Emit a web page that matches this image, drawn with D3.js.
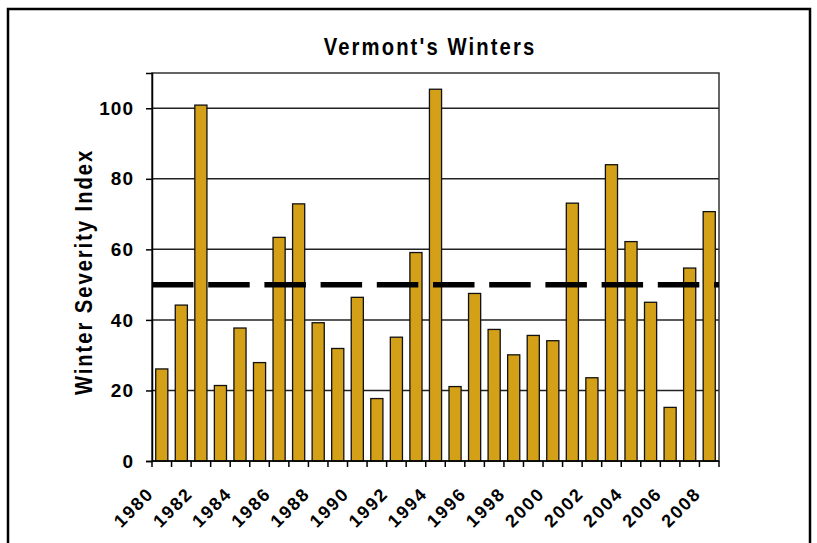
<!doctype html>
<html>
<head>
        <script src="https://cdn.jsdelivr.net/npm/d3@7"></script>
        <style type="text/css">
                body { margin: 0; background: white; }
                svg { font-family: "Liberation Sans", Arial, sans-serif; }
        </style>
</head>
<body>
        <svg width="817" height="543"></svg>

        <script type="text/javascript">

        var years = [1980,1981,1982,1983,1984,1985,1986,1987,1988,1989,
                     1990,1991,1992,1993,1994,1995,1996,1997,1998,1999,
                     2000,2001,2002,2003,2004,2005,2006,2007,2008];
        var severity = [26.1,44.2,100.9,21.4,37.7,27.9,63.4,72.9,39.2,31.9,
                        46.4,17.7,35.1,59.1,105.4,21.1,47.5,37.3,30.1,35.6,
                        34.1,73.1,23.6,84.0,62.2,45.0,15.2,54.7,70.7];
        var yTicks = [0,20,40,60,80,100];
        var xLabels = [1980,1982,1984,1986,1988,1990,1992,1994,1996,1998,2000,2002,2004,2006,2008];
        var average = [50];

        var svg = d3.select("svg");

        // outer chart border
        svg.append("rect")
           .attr("x", 8).attr("y", 9)
           .attr("width", 802).attr("height", 560)
           .attr("fill", "none")
           .attr("stroke", "black")
           .attr("stroke-width", 2.5);

        var pLeft = 152, pRight = 719, pTop = 73, pBottom = 461;

        var xScale = d3.scaleBand().domain(years).range([pLeft, pRight]).paddingInner(0.38).paddingOuter(0.19);
        var yScale = d3.scaleLinear().domain([0,110]).range([pBottom, pTop]);

        // gridlines
        svg.append("g").selectAll("line")
           .data(yTicks.filter(function(d) { return d > 0; }))
           .enter().append("line")
           .attr("x1", pLeft).attr("x2", pRight)
           .attr("y1", function(d) { return yScale(d); })
           .attr("y2", function(d) { return yScale(d); })
           .attr("stroke", "#222")
           .attr("stroke-width", 1.5);

        // plot frame
        svg.append("rect")
           .attr("x", pLeft).attr("y", pTop)
           .attr("width", pRight - pLeft).attr("height", pBottom - pTop)
           .attr("fill", "none")
           .attr("stroke", "#333")
           .attr("stroke-width", 1.5);

        // bars
        svg.append("g").selectAll("rect")
           .data(years)
           .enter().append("rect")
           .attr("x", function(d) { return xScale(d); })
           .attr("width", xScale.bandwidth())
           .attr("y", function(d, i) { return yScale(severity[i]); })
           .attr("height", function(d, i) { return pBottom - yScale(severity[i]); })
           .attr("fill", "#D4A017")
           .attr("stroke", "#111")
           .attr("stroke-width", 1.3);

        // dashed average line
        svg.append("g").selectAll("line")
           .data(average)
           .enter().append("line")
           .attr("x1", pLeft).attr("x2", pRight)
           .attr("y1", function(d) { return yScale(d); })
           .attr("y2", function(d) { return yScale(d); })
           .attr("stroke", "black")
           .attr("stroke-width", 5.5)
           .attr("stroke-dasharray", "41.5,14.7");

        // y axis
        var yAxis = d3.axisLeft(yScale).tickValues(yTicks).tickSize(6).tickPadding(12);
        var yG = svg.append("g").attr("transform", "translate(" + pLeft + ",0)").call(yAxis);
        yG.select(".domain").attr("stroke", "black").attr("stroke-width", 1.5);
        yG.selectAll(".tick line").attr("stroke", "black").attr("stroke-width", 1.5);
        yG.selectAll("text")
          .attr("font-size", 19).attr("font-weight", "bold")
          .attr("fill", "black")
          .style("letter-spacing", "1px")
          .style("font-family", "'Liberation Sans', Arial, sans-serif");

        // x axis: ticks at band edges
        var edges = years.map(function(d) { return xScale(d) - xScale.step() * xScale.paddingInner() / 2; });
        edges.push(pRight);
        svg.append("line")
           .attr("x1", pLeft).attr("x2", pRight)
           .attr("y1", pBottom).attr("y2", pBottom)
           .attr("stroke", "black").attr("stroke-width", 1.5);
        svg.append("g").selectAll("line")
           .data(edges)
           .enter().append("line")
           .attr("x1", function(d) { return d; })
           .attr("x2", function(d) { return d; })
           .attr("y1", pBottom).attr("y2", pBottom + 6)
           .attr("stroke", "black").attr("stroke-width", 1.5);

        // year labels, slanted
        svg.append("g").selectAll("text")
           .data(xLabels)
           .enter().append("text")
           .attr("transform", function(d) {
                   var cx = xScale(d) + xScale.bandwidth() / 2;
                   return "translate(" + (cx - 7) + "," + (pBottom + 34) + ") rotate(-45)";
           })
           .attr("text-anchor", "end")
           .attr("font-size", 18).attr("font-weight", "bold")
           .style("letter-spacing", "1.8px")
           .text(function(d) { return d; });

        // titles
        svg.append("text")
           .attr("transform", "translate(430,55) scale(0.88,1)")
           .attr("text-anchor", "middle")
           .attr("font-size", 23).attr("font-weight", "bold")
           .style("letter-spacing", "2.4px")
           .text("Vermont's Winters");

        svg.append("text")
           .attr("transform", "translate(92,272) rotate(-90) scale(0.88,1)")
           .attr("text-anchor", "middle")
           .attr("font-size", 23).attr("font-weight", "bold")
           .style("letter-spacing", "2.2px")
           .text("Winter Severity Index");

        </script>
</body>
</html>
